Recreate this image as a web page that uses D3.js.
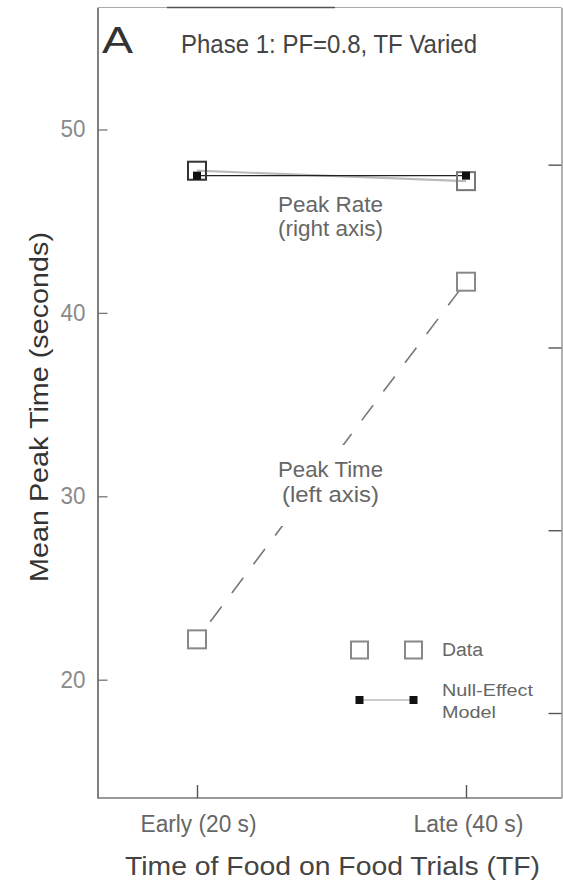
<!DOCTYPE html>
<html><head><meta charset="utf-8">
<script src="https://cdn.jsdelivr.net/npm/d3@7"></script>
<style>html,body{margin:0;padding:0;background:#fff;} svg{display:block;font-family:"Liberation Sans",Arial,sans-serif;}</style>
</head><body><svg id="chart" width="563" height="887"></svg>
<script>
// ---- data ----
const categories = ["Early (20 s)", "Late (40 s)"];
const peakTimeData = [22.2, 41.7];      // left axis (seconds)
const peakRateData = [39.67, 39.1];     // right axis (unlabelled units)
const peakRateModel = [39.4, 39.4];     // null-effect model, right axis
const leftTicks = [20, 30, 40, 50];
const rightTicks = [10, 20, 30, 40];
const leftDomain = [13.55, 56.65];
const rightDomain = [5.35, 48.6];

// ---- layout ----
const plot = {left: 97.5, right: 561.5, top: 7.5, bottom: 798};
const svg = d3.select("#chart");
const x = d3.scalePoint().domain(categories).range([197, 466]);
const yL = d3.scaleLinear().domain(leftDomain).range([plot.bottom, plot.top]);
const yR = d3.scaleLinear().domain(rightDomain).range([plot.bottom, plot.top]);

function txt(s, tx, ty, size, len, fill, anchor, rot) {
  const t = svg.append("text").attr("x", tx).attr("y", ty)
    .attr("font-size", size).attr("fill", fill).attr("text-anchor", anchor || "start")
    .text(s);
  if (len) t.attr("textLength", len).attr("lengthAdjust", "spacingAndGlyphs");
  if (rot) t.attr("transform", `rotate(${rot},${tx},${ty})`);
  return t;
}

// frame top
svg.append("line").attr("x1", plot.left).attr("x2", plot.right)
  .attr("y1", plot.top).attr("y2", plot.top)
  .attr("stroke", "#aaa").attr("stroke-width", 1.2);
svg.append("line").attr("x1", 167).attr("x2", 335)
  .attr("y1", plot.top).attr("y2", plot.top)
  .attr("stroke", "#555").attr("stroke-width", 1.4);

// left axis
const gL = svg.append("g").attr("transform", `translate(${plot.left},0)`)
  .call(d3.axisLeft(yL).tickValues(leftTicks).tickSizeInner(-10).tickSizeOuter(0).tickPadding(12));
gL.select(".domain").attr("stroke", "#555").attr("stroke-width", 1.5);
gL.selectAll(".tick line").attr("stroke", "#777").attr("stroke-width", 1.3);
gL.selectAll(".tick text").attr("font-size", 23).attr("fill", "#8a8a8a")
  .attr("font-family", "Liberation Sans, Arial, sans-serif")
  .attr("textLength", 25).attr("lengthAdjust", "spacingAndGlyphs");

// right axis
const gR = svg.append("g").attr("transform", `translate(${plot.right},0)`)
  .call(d3.axisRight(yR).tickValues(rightTicks).tickSizeInner(-13).tickSizeOuter(0).tickFormat(""));
gR.select(".domain").attr("stroke", "#888").attr("stroke-width", 1.3);
gR.selectAll(".tick line").attr("stroke", "#555").attr("stroke-width", 1.4);

// bottom axis
const gB = svg.append("g").attr("transform", `translate(0,${plot.bottom})`)
  .call(d3.axisBottom(x).tickSizeInner(-13).tickSizeOuter(0).tickPadding(0));
gB.select(".domain").attr("d", `M${plot.left},0H${plot.right}`).attr("stroke", "#777").attr("stroke-width", 1.4);
gB.selectAll(".tick line").attr("stroke", "#555").attr("stroke-width", 1.4);
gB.selectAll(".tick text").attr("font-size", 23).attr("fill", "#666")
  .attr("font-family", "Liberation Sans, Arial, sans-serif")
  .attr("dy", null).attr("y", 34)
  .attr("textLength", (d, i) => [116, 110][i]).attr("lengthAdjust", "spacingAndGlyphs")
  .attr("dx", (d, i) => [1, 2][i]);

// Peak time dashed line (left axis)
const lineL = d3.line().x((d, i) => x(categories[i])).y(d => yL(d));
svg.append("path").datum(peakTimeData).attr("d", lineL)
  .attr("fill", "none").attr("stroke", "#777").attr("stroke-width", 1.6)
  .attr("stroke-dasharray", "19,17").attr("stroke-dashoffset", 14);
// gap around label
svg.append("rect").attr("x", 268).attr("y", 445).attr("width", 128).attr("height", 81).attr("fill", "#fff");

// Peak rate data line (faint)
const lineR = d3.line().x((d, i) => x(categories[i])).y(d => yR(d));
svg.append("path").datum(peakRateData).attr("d", lineR)
  .attr("fill", "none").attr("stroke", "#bbb").attr("stroke-width", 2.2);
// model line
svg.append("path").datum(peakRateModel).attr("d", lineR)
  .attr("fill", "none").attr("stroke", "#222").attr("stroke-width", 1.3);

// data squares
const bs = 18;
svg.selectAll("rect.pt").data(peakTimeData).join("rect").attr("class", "pt")
  .attr("x", (d, i) => x(categories[i]) - bs / 2).attr("y", d => yL(d) - bs / 2)
  .attr("width", bs).attr("height", bs).attr("fill", "#fff")
  .attr("stroke", "#888").attr("stroke-width", 2);
svg.selectAll("rect.pr").data(peakRateData).join("rect").attr("class", "pr")
  .attr("x", (d, i) => x(categories[i]) - bs / 2).attr("y", d => yR(d) - bs / 2)
  .attr("width", bs).attr("height", bs).attr("fill", "none")
  .attr("stroke", (d, i) => i === 0 ? "#333" : "#777").attr("stroke-width", 2);
// model squares
const ms = 8;
svg.selectAll("rect.pm").data(peakRateModel).join("rect").attr("class", "pm")
  .attr("x", (d, i) => x(categories[i]) - ms / 2).attr("y", d => yR(d) - ms / 2)
  .attr("width", ms).attr("height", ms).attr("fill", "#111");

// annotations
txt("Peak Rate", 330.5, 211.5, 22, 105, "#666", "middle");
txt("(right axis)", 330.5, 236, 22, 105, "#666", "middle");
txt("Peak Time", 330.5, 477, 22, 105, "#666", "middle");
txt("(left axis)", 330.5, 502, 22, 97, "#666", "middle");

// legend
const legX = [359.5, 413.5];
svg.selectAll("rect.ld").data(legX).join("rect").attr("class", "ld")
  .attr("x", d => d - 8.5).attr("y", 650 - 8.5).attr("width", 17).attr("height", 17)
  .attr("fill", "#fff").attr("stroke", "#888").attr("stroke-width", 2);
svg.append("line").attr("x1", legX[0]).attr("x2", legX[1]).attr("y1", 700).attr("y2", 700)
  .attr("stroke", "#999").attr("stroke-width", 1);
svg.selectAll("rect.lm").data(legX).join("rect").attr("class", "lm")
  .attr("x", d => d - 4).attr("y", 700 - 4).attr("width", 8).attr("height", 8).attr("fill", "#111");
txt("Data", 442, 656, 18, 41, "#666");
txt("Null-Effect", 442, 696, 17, 91, "#666");
txt("Model", 442, 718, 17, 54, "#666");

// titles
txt("A", 102, 53, 36, 31, "#333");
txt("Phase 1: PF=0.8, TF Varied", 181, 53, 25, 296, "#444");
txt("Time of Food on Food Trials (TF)", 332.5, 875, 26, 415, "#444", "middle");
txt("Mean Peak Time (seconds)", 48, 407, 26, 350, "#333", "middle", -90);
</script></body></html>
